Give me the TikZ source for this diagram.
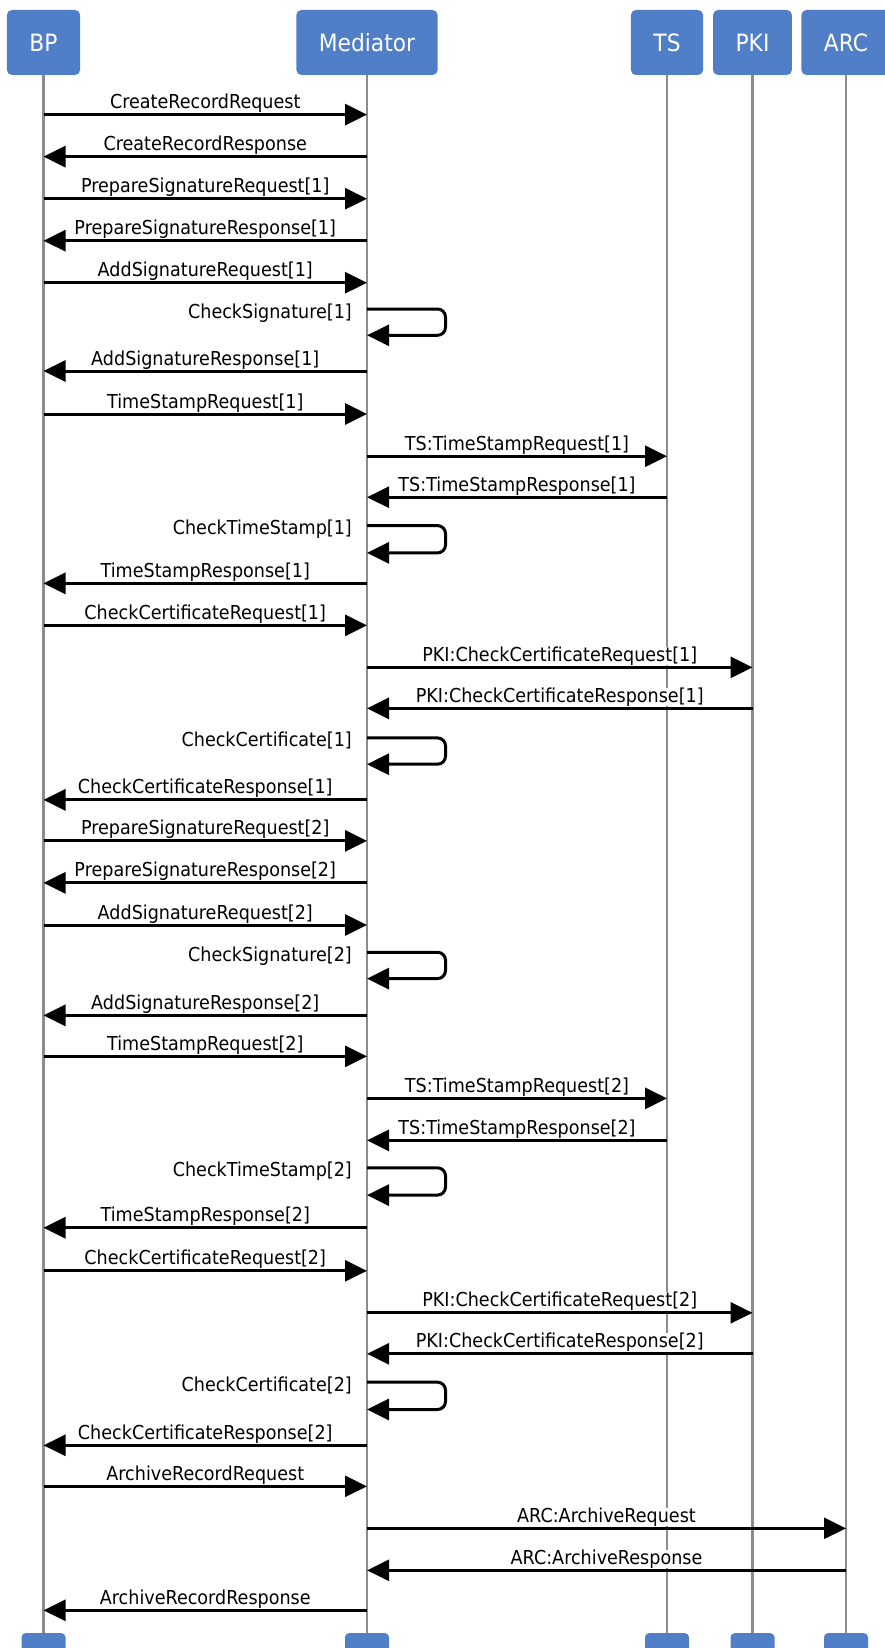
\documentclass[tikz,border=0pt]{standalone}
\usepackage{fontspec}
\setmainfont{DejaVu Sans}[FakeStretch=0.915]
\usepackage{tikz}
\usetikzlibrary{arrows.meta,calc}
\definecolor{actorblue}{RGB}{80,126,199}
\definecolor{linegray}{RGB}{140,140,140}

\begin{document}
\begin{tikzpicture}[
  x=1pt, y=-1pt,
  actor/.style = {
    rectangle, fill=actorblue, rounded corners=5pt,
    text=white, font=\fontsize{23.8}{28}\selectfont,
    minimum height=65pt, inner xsep=22.5pt
  },
  endbox/.style = {
    rectangle, fill=actorblue, rounded corners=4pt,
    minimum width=44pt, minimum height=30pt, anchor=north
  },
  lifeline/.style = {line width=2.7pt, linegray},
  msg/.style = {-{Triangle[length=22pt,width=21pt]}, line width=3pt, black},
  selfmsg/.style = {msg, rounded corners=8pt},
  lbl/.style = {anchor=base, yshift=6pt, fill=white, inner sep=0pt,
    font=\fontsize{19.2}{23}\selectfont},
  selflbl/.style = {anchor=base east, xshift=-13.7pt, yshift=-9pt, inner sep=0pt,
    font=\fontsize{19.2}{23}\selectfont}
]
  \useasboundingbox (0,0) rectangle (885,1648);
  \clip (0,0) rectangle (885,1648);

  % participants
  \node[actor] (bp)  at (43.5,42.5) {BP};
  \node[actor] (med) at (367,42.5)  {Mediator};
  \node[actor] (ts)  at (667,42.5)  {TS};
  \node[actor] (pki) at (752.5,42.5) {PKI};
  \node[actor] (arc) at (846,42.5)  {ARC};

  \node[endbox] (bpE)  at (43.5,1633) {};
  \node[endbox] (medE) at (367,1633)  {};
  \node[endbox] (tsE)  at (667,1633)  {};
  \node[endbox] (pkiE) at (752.5,1633) {};
  \node[endbox] (arcE) at (846,1633)  {};

  \foreach \a in {bp,med,ts,pki,arc}
    \draw[lifeline] (\a.south) -- (\a E.north);

  % message rows
  \foreach \y [count=\i] in {114.6,156.6,198.7,240.7,282.7,309,335.3,371,414,456.2,
      497.2,525.6,552.9,583.4,625.4,667.4,708.4,737.9,764.2,799.9,
      840.9,882.9,925,952.3,978.6,1015.4,1056.4,1098.4,1140.4,1167.8,
      1195.1,1227.7,1270.8,1312.8,1353.8,1382.2,1409.5,1445.3,1486.3,1528.3,
      1570.3,1610.3}
    \coordinate (r\i) at (0,\y);

  \draw[msg] (bp |- r1) -- node[lbl]{CreateRecordRequest} (med |- r1);
  \draw[msg] (med |- r2) -- node[lbl]{CreateRecordResponse} (bp |- r2);
  \draw[msg] (bp |- r3) -- node[lbl]{PrepareSignatureRequest[1]} (med |- r3);
  \draw[msg] (med |- r4) -- node[lbl]{PrepareSignatureResponse[1]} (bp |- r4);
  \draw[msg] (bp |- r5) -- node[lbl]{AddSignatureRequest[1]} (med |- r5);
  \draw[selfmsg] (med |- r6) node[selflbl]{CheckSignature[1]} -- ++(78.5,0) |- (med |- r7);
  \draw[msg] (med |- r8) -- node[lbl]{AddSignatureResponse[1]} (bp |- r8);
  \draw[msg] (bp |- r9) -- node[lbl]{TimeStampRequest[1]} (med |- r9);
  \draw[msg] (med |- r10) -- node[lbl]{TS:TimeStampRequest[1]} (ts |- r10);
  \draw[msg] (ts |- r11) -- node[lbl]{TS:TimeStampResponse[1]} (med |- r11);
  \draw[selfmsg] (med |- r12) node[selflbl]{CheckTimeStamp[1]} -- ++(78.5,0) |- (med |- r13);
  \draw[msg] (med |- r14) -- node[lbl]{TimeStampResponse[1]} (bp |- r14);
  \draw[msg] (bp |- r15) -- node[lbl]{CheckCertificateRequest[1]} (med |- r15);
  \draw[msg] (med |- r16) -- node[lbl]{PKI:CheckCertificateRequest[1]} (pki |- r16);
  \draw[msg] (pki |- r17) -- node[lbl]{PKI:CheckCertificateResponse[1]} (med |- r17);
  \draw[selfmsg] (med |- r18) node[selflbl]{CheckCertificate[1]} -- ++(78.5,0) |- (med |- r19);
  \draw[msg] (med |- r20) -- node[lbl]{CheckCertificateResponse[1]} (bp |- r20);

  \draw[msg] (bp |- r21) -- node[lbl]{PrepareSignatureRequest[2]} (med |- r21);
  \draw[msg] (med |- r22) -- node[lbl]{PrepareSignatureResponse[2]} (bp |- r22);
  \draw[msg] (bp |- r23) -- node[lbl]{AddSignatureRequest[2]} (med |- r23);
  \draw[selfmsg] (med |- r24) node[selflbl]{CheckSignature[2]} -- ++(78.5,0) |- (med |- r25);
  \draw[msg] (med |- r26) -- node[lbl]{AddSignatureResponse[2]} (bp |- r26);
  \draw[msg] (bp |- r27) -- node[lbl]{TimeStampRequest[2]} (med |- r27);
  \draw[msg] (med |- r28) -- node[lbl]{TS:TimeStampRequest[2]} (ts |- r28);
  \draw[msg] (ts |- r29) -- node[lbl]{TS:TimeStampResponse[2]} (med |- r29);
  \draw[selfmsg] (med |- r30) node[selflbl]{CheckTimeStamp[2]} -- ++(78.5,0) |- (med |- r31);
  \draw[msg] (med |- r32) -- node[lbl]{TimeStampResponse[2]} (bp |- r32);
  \draw[msg] (bp |- r33) -- node[lbl]{CheckCertificateRequest[2]} (med |- r33);
  \draw[msg] (med |- r34) -- node[lbl]{PKI:CheckCertificateRequest[2]} (pki |- r34);
  \draw[msg] (pki |- r35) -- node[lbl]{PKI:CheckCertificateResponse[2]} (med |- r35);
  \draw[selfmsg] (med |- r36) node[selflbl]{CheckCertificate[2]} -- ++(78.5,0) |- (med |- r37);
  \draw[msg] (med |- r38) -- node[lbl]{CheckCertificateResponse[2]} (bp |- r38);

  \draw[msg] (bp |- r39) -- node[lbl]{ArchiveRecordRequest} (med |- r39);
  \draw[msg] (med |- r40) -- node[lbl]{ARC:ArchiveRequest} (arc |- r40);
  \draw[msg] (arc |- r41) -- node[lbl]{ARC:ArchiveResponse} (med |- r41);
  \draw[msg] (med |- r42) -- node[lbl]{ArchiveRecordResponse} (bp |- r42);
\end{tikzpicture}
\end{document}
